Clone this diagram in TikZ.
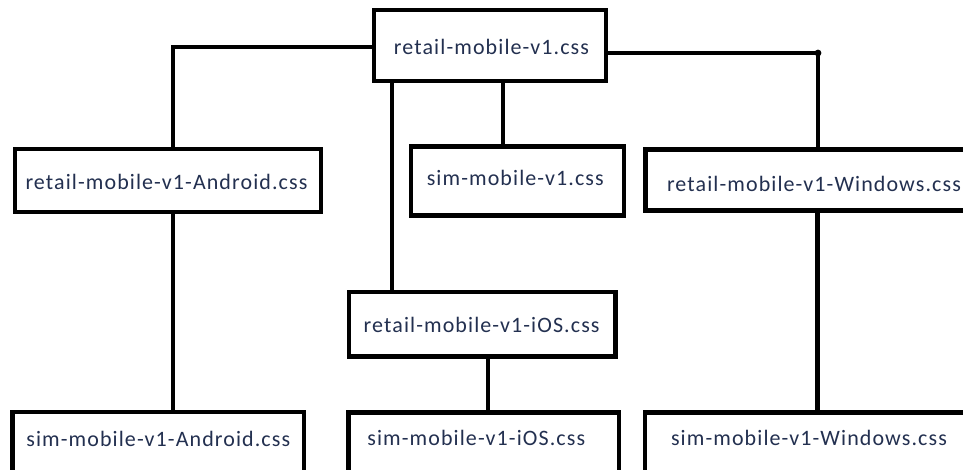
\documentclass[tikz,border=0pt]{standalone}
\usepackage{fontspec}
\setmainfont{Carlito}[LetterSpace=5]
\definecolor{txt}{RGB}{35,48,80}
\tikzset{
  box/.style={draw=black, line width=4.5pt, rectangle, inner sep=0pt},
  lbl/.style={anchor=base, font=\fontsize{22}{26}\selectfont, text=txt, inner sep=0pt},
  wire/.style={draw=black, line width=4.5pt, line join=miter}
}
\begin{document}
\begin{tikzpicture}[x=1pt,y=-1pt]
\clip (0,0) rectangle (963,469);
\fill[white] (0,0) rectangle (963,469);
% boxes
\node[box, minimum width=232pt, minimum height=71pt] (top) at (490,45.5) {};
\node[box, minimum width=306pt, minimum height=63pt] (and) at (168,180.5) {};
\node[box, minimum width=213pt, minimum height=69pt] (sim) at (517.5,181) {};
\node[box, minimum width=340pt, minimum height=61pt] (win) at (815.5,180) {};
\node[box, minimum width=266.5pt, minimum height=64.5pt] (ios) at (482.25,324.25) {};
\node[box, minimum width=291.5pt, minimum height=80pt] (sand) at (158.25,451.8) {};
\node[box, minimum width=270.5pt, minimum height=80pt] (sios) at (483.75,452.5) {};
\node[box, minimum width=340pt, minimum height=80pt] (swin) at (815,452.5) {};
% labels
\node[lbl] (ttop) at (491.5,54) {retail-mobile-v1.css};
\node[lbl] (tand) at (166.5,189) {retail-mobile-v1-Android.css};
\node[lbl] (tsim) at (515.3,185) {sim-mobile-v1.css};
\node[lbl] (twin) at (814,191) {retail-mobile-v1-Windows.css};
\node[lbl] (tios) at (481.7,332) {retail-mobile-v1-iOS.css};
\node[lbl] (tsios) at (476.3,445.7) {sim-mobile-v1-iOS.css};
\node[lbl] (tsand) at (158.3,446.7) {sim-mobile-v1-Android.css};
\node[lbl] (tswin) at (809,445) {sim-mobile-v1-Windows.css};
% connector coordinates
\coordinate (jl) at (173,47);
\coordinate (jr) at (818,53);
\coordinate (c1) at (392,0);
\coordinate (c2) at (503,0);
\coordinate (c3) at (488,0);
\coordinate (c4) at (817.5,0);
% connectors
\draw[wire] (top.west |- jl) -| (and.north -| jl);
\draw[wire] (top.east |- jr) -| (win.north -| jr);
\fill[black] (jr) circle (3.4pt);
\draw[wire] (top.south -| c1) -- (ios.north -| c1);
\draw[wire] (top.south -| c2) -- (sim.north -| c2);
\draw[wire] (and.south -| jl) -- (sand.north -| jl);
\draw[wire] (ios.south -| c3) -- (sios.north -| c3);
\draw[wire] (win.south -| c4) -- (swin.north -| c4);
\end{tikzpicture}
\end{document}
